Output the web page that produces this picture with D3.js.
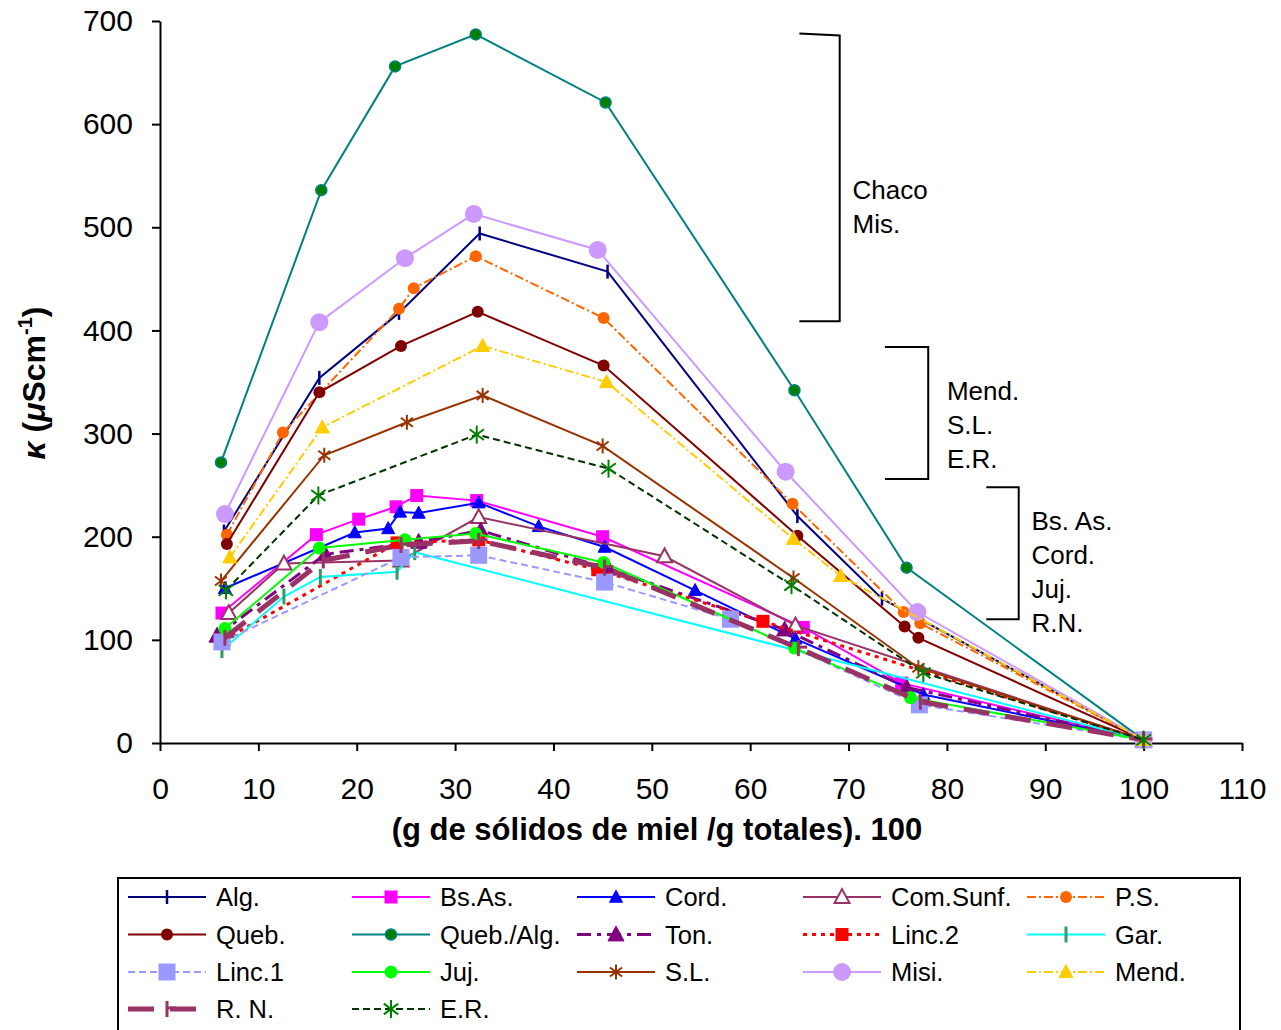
<!DOCTYPE html>
<html><head><meta charset="utf-8">
<script src="https://cdn.jsdelivr.net/npm/d3@7"></script>
<style>body{margin:0;background:#fff}svg{display:block}text{font-family:"Liberation Sans",Arial,sans-serif}</style>
</head><body>
<svg id="c" width="1281" height="1030"></svg>
<script>
// ---- data (x = g sólidos/g totales *100, y = conductividad µS/cm) ----
const xTicks = [0,10,20,30,40,50,60,70,80,90,100,110];
const yTicks = [0,100,200,300,400,500,600,700];
const alg     = [[6.5,205],[16.2,354],[24.3,417],[32.5,494],[45.5,457],[64.8,220],[73.4,140],[100,3]];
const bsas    = [[6.3,126],[15.9,202],[20.2,217],[24.0,229],[26.1,240],[32.2,235],[45.0,200],[65.4,112],[75.4,58],[100,3]];
const cord    = [[6.6,150],[19.8,204],[23.2,208],[24.4,224],[26.3,223],[32.4,233],[38.5,210],[45.2,190],[54.4,148],[64.6,101],[77.6,47],[100,3]];
const comSunf = [[7.0,126],[12.6,174],[24.5,177],[32.4,219],[51.3,181],[64.6,114],[100,3]];
const ps      = [[6.8,202],[12.5,301],[24.3,421],[25.8,441],[32.1,472],[45.1,412],[64.3,232],[75.6,127],[77.3,116],[100,3]];
const queb    = [[6.8,193],[16.2,340],[24.5,385],[32.3,418],[45.1,366],[64.8,201],[75.7,113],[77.1,102],[100,3]];
const quebAlg = [[6.2,272],[16.4,536],[23.9,656],[32.1,687],[45.3,621],[64.5,342],[75.9,170],[100,3]];
const ton     = [[5.8,104],[16.8,183],[26.3,195],[32.6,206],[45.6,169],[63.5,110],[75.9,54],[100,3]];
const linc2   = [[6.5,100],[24.1,194],[32.4,197],[44.5,168],[61.3,118],[100,3]];
const gar     = [[6.3,90],[12.6,142],[16.3,161],[24.1,166],[25.9,185],[100,3]];
const linc1   = [[6.3,98],[24.5,180],[32.4,182],[45.2,156],[58.0,120],[77.2,37],[100,3]];
const juj     = [[6.6,111],[16.2,189],[24.9,197],[32.1,203],[45.1,175],[64.5,92],[76.3,44],[100,3]];
const sl      = [[6.2,157],[16.7,279],[25.1,311],[32.8,337],[45.0,288],[64.4,160],[77.1,73],[100,3]];
const misi    = [[6.6,222],[16.2,408],[24.9,470],[31.9,513],[44.5,478],[63.6,263],[77.0,127],[100,3]];
const mend    = [[7.1,180],[16.5,306],[32.8,385],[45.4,350],[64.4,198],[69.2,162],[100,3]];
const rn      = [[6.6,102],[16.6,177],[24.5,192],[32.4,196],[45.2,170],[64.9,92],[77.3,40],[100,3]];
const er      = [[6.7,148],[16.1,240],[32.2,299],[45.6,266],[64.2,153],[77.6,68],[100,3]];

// annotation groups (data units)
const groupLabels = [["Chaco","Mis."],["Mend.","S.L.","E.R."],["Bs. As.","Cord.","Juj.","R.N."]];
const brackets = [[65.0,69.1,686,409],[73.7,78.1,384,256],[84.0,87.3,248,120]];
const labelPos = [[70.4,536],[80.0,341],[88.6,215]];

// ---- series styles ----
const series = [
 {name:"Alg.", d:alg, c:"#000080", w:2, dash:null, m:"vtick", mc:"#000080", ms:14},
 {name:"Bs.As.", d:bsas, c:"#FF00FF", w:2, dash:null, m:"square", mc:"#FF00FF", ms:13},
 {name:"Cord.", d:cord, c:"#0000FF", w:2, dash:null, m:"tri", mc:"#0000FF", ms:13},
 {name:"Com.Sunf.", d:comSunf, c:"#993366", w:2, dash:null, m:"otri", mc:"#993366", ms:15},
 {name:"P.S.", d:ps, c:"#FF6600", w:2, dash:"9,3,2,3", m:"circle", mc:"#FF6600", ms:12},
 {name:"Queb.", d:queb, c:"#800000", w:2, dash:null, m:"circle", mc:"#800000", ms:12},
 {name:"Queb./Alg.", d:quebAlg, c:"#008080", w:2, dash:null, m:"circle", mc:"#008000", ms:11, stroke:"#008080"},
 {name:"Ton.", d:ton, c:"#800080", w:3, dash:"14,6,4,6", m:"tri", mc:"#800080", ms:16},
 {name:"Linc.2", d:linc2, c:"#FF0000", w:3, dash:"4,5", m:"square", mc:"#FF0000", ms:13},
 {name:"Gar.", d:gar, c:"#00FFFF", w:2, dash:null, m:"vtick", mc:"#339966", ms:16, mw:3},
 {name:"Linc.1", d:linc1, c:"#9999FF", w:2, dash:"7,4", m:"square", mc:"#9999FF", ms:17},
 {name:"Juj.", d:juj, c:"#00FF00", w:2, dash:null, m:"circle", mc:"#00FF00", ms:13},
 {name:"S.L.", d:sl, c:"#993300", w:2, dash:null, m:"star", mc:"#993300", ms:15},
 {name:"Misi.", d:misi, c:"#CC99FF", w:2, dash:null, m:"circle", mc:"#CC99FF", ms:18},
 {name:"Mend.", d:mend, c:"#FFCC00", w:2, dash:"9,3,2,3", m:"tri", mc:"#FFCC00", ms:14},
 {name:"R. N.", d:rn, c:"#993366", w:5, dash:"26,16", m:"ntick", mc:"#993366", ms:16, mw:3},
 {name:"E.R.", d:er, c:"#003300", w:2, dash:"7,4", m:"star", mc:"#008000", ms:18}
];

const svg = d3.select("#c");
const x = d3.scaleLinear().domain([0,110]).range([160,1242]);
const y = d3.scaleLinear().domain([0,700]).range([743,21]);

// axes
const xa = svg.append("g").attr("transform","translate(0,743)")
  .call(d3.axisBottom(x).tickValues(xTicks).tickSize(8).tickSizeOuter(0).tickPadding(27));
const ya = svg.append("g").attr("transform","translate(160,0)")
  .call(d3.axisLeft(y).tickValues(yTicks).tickSize(8).tickSizeOuter(0).tickPadding(19));
[xa,ya].forEach(a=>{
  a.selectAll("path,line").attr("stroke","#000").attr("stroke-width",2);
  a.selectAll("text").attr("font-size",30).attr("fill","#000").style("font-family","'Liberation Sans',Arial,sans-serif");
});

// axis titles
svg.append("text").attr("x",657).attr("y",840).attr("text-anchor","middle")
  .attr("font-size",31).attr("font-weight","bold").text("(g de sólidos de miel /g totales). 100");
const yt = svg.append("text").attr("transform","translate(45,383) rotate(-90)").attr("text-anchor","middle")
  .attr("font-size",32).attr("font-weight","bold");
yt.append("tspan").attr("font-style","italic").text("κ");
yt.append("tspan").text(" (");
yt.append("tspan").attr("font-style","italic").text("μ");
yt.append("tspan").text("Scm");
yt.append("tspan").attr("font-size",20).attr("dy",-13).text("-1");
yt.append("tspan").attr("dy",13).text(")");

// marker drawing
function marker(g, s, cx, cy){
  const r = s.ms/2;
  if(s.m==="circle"){
    g.append("circle").attr("cx",cx).attr("cy",cy).attr("r",r).attr("fill",s.mc)
     .attr("stroke",s.stroke||s.mc).attr("stroke-width",s.stroke?1.5:0);
  } else if(s.m==="square"){
    g.append("rect").attr("x",cx-r).attr("y",cy-r).attr("width",s.ms).attr("height",s.ms).attr("fill",s.mc);
  } else if(s.m==="tri"||s.m==="otri"){
    const pts = [[cx,cy-r*1.05],[cx+r,cy+r*0.8],[cx-r,cy+r*0.8]].map(p=>p.join(",")).join(" ");
    g.append("polygon").attr("points",pts).attr("fill",s.m==="tri"?s.mc:"#fff")
     .attr("stroke",s.mc).attr("stroke-width",s.m==="tri"?1:2);
  } else if(s.m==="vtick"){
    g.append("line").attr("x1",cx).attr("x2",cx).attr("y1",cy-r).attr("y2",cy+r)
     .attr("stroke",s.mc).attr("stroke-width",s.mw||2.5);
  } else if(s.m==="ntick"){
    g.append("line").attr("x1",cx).attr("x2",cx).attr("y1",cy-r).attr("y2",cy+r)
     .attr("stroke",s.mc).attr("stroke-width",s.mw||3);
    g.append("line").attr("x1",cx).attr("x2",cx+r*1.1).attr("y1",cy-1).attr("y2",cy-1)
     .attr("stroke",s.mc).attr("stroke-width",3);
  } else if(s.m==="star"){
    const a = r*0.8;
    [[0,-r,0,r],[-a,-a*0.75,a,a*0.75],[-a,a*0.75,a,-a*0.75]].forEach(l=>{
      g.append("line").attr("x1",cx+l[0]).attr("y1",cy+l[1]).attr("x2",cx+l[2]).attr("y2",cy+l[3])
       .attr("stroke",s.mc).attr("stroke-width",2);
    });
  }
}

// series
const line = d3.line().x(d=>x(d[0])).y(d=>y(d[1]));
series.forEach(s=>{
  const g = svg.append("g");
  g.append("path").attr("d",line(s.d)).attr("fill","none").attr("stroke",s.c)
   .attr("stroke-width",s.w).attr("stroke-dasharray",s.dash);
  s.d.forEach(p=>marker(g,s,x(p[0]),y(p[1])));
});

// brackets & group labels
brackets.forEach((b,i)=>{
  const x0=x(b[0]), x1=x(b[1]), y0=y(b[2]), y1=y(b[3]);
  svg.append("path").attr("d",`M${x0},${y0-(i===0?2:0)}L${x1},${y0}L${x1},${y1}L${x0},${y1}`)
    .attr("fill","none").attr("stroke","#000").attr("stroke-width",2);
  const lp = labelPos[i];
  groupLabels[i].forEach((t,j)=>{
    svg.append("text").attr("x",x(lp[0])).attr("y",y(lp[1])+j*34).attr("dy","0.35em")
      .attr("font-size",26).text(t);
  });
});

// legend
const lg = svg.append("g");
lg.append("rect").attr("x",118).attr("y",878).attr("width",1122).attr("height",170)
  .attr("fill","#fff").attr("stroke","#000").attr("stroke-width",2);
const colX = [128,352,577,803,1027], rowY = [897,934.5,972,1009];
series.forEach((s,i)=>{
  const cx = colX[i%5], cy = rowY[Math.floor(i/5)];
  const g = lg.append("g");
  g.append("line").attr("x1",cx).attr("x2",cx+78).attr("y1",cy).attr("y2",cy)
   .attr("stroke",s.c).attr("stroke-width",s.w).attr("stroke-dasharray",s.dash);
  marker(g,s,cx+39,cy);
  g.append("text").attr("x",cx+88).attr("y",cy).attr("dy","0.36em").attr("font-size",25.5).text(s.name);
});
</script>
</body></html>
